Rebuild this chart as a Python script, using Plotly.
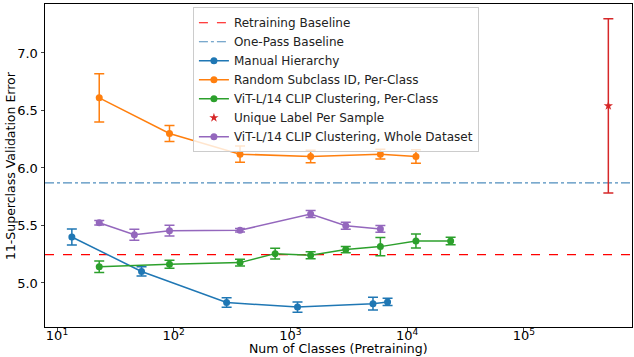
import plotly.graph_objects as go

# ---- data ----
manual_x = [13.4, 53, 284, 1150, 5100, 6800]
manual_y = [5.40, 5.10, 4.83, 4.79, 4.82, 4.835]
manual_e = [0.07, 0.04, 0.042, 0.045, 0.055, 0.032]

random_x = [23, 92, 370, 1490, 5900, 11900]
random_y = [6.61, 6.30, 6.12, 6.10, 6.12, 6.10]
random_e = [0.21, 0.07, 0.07, 0.055, 0.043, 0.058]

clip_pc_x = [23, 92, 370, 740, 1490, 2980, 5900, 11900, 23600]
clip_pc_y = [5.14, 5.163, 5.177, 5.255, 5.241, 5.29, 5.316, 5.365, 5.365]
clip_pc_e = [0.05, 0.035, 0.03, 0.046, 0.03, 0.028, 0.08, 0.06, 0.032]

unique_x = [530000]
unique_y = [6.54]
unique_e = [0.757]

clip_wd_x = [23, 46, 92, 370, 1490, 2980, 5900]
clip_wd_y = [5.524, 5.42, 5.455, 5.458, 5.60, 5.498, 5.47]
clip_wd_e = [0.02, 0.048, 0.046, 0.015, 0.03, 0.03, 0.03]

retrain_baseline = 5.246
onepass_baseline = 5.87

x_log_range = [0.897, 5.927]
y_range = [4.617, 7.426]
x_tickvals = [10, 100, 1000, 10000, 100000]
x_ticktext = ["10<sup>1</sup>", "10<sup>2</sup>", "10<sup>3</sup>", "10<sup>4</sup>", "10<sup>5</sup>"]
y_tickvals = [5.0, 5.5, 6.0, 6.5, 7.0]
x_title = "Num of Classes (Pretraining)"
y_title = "11-Superclass Validation Error"

FONT = "DejaVu Sans"
fig = go.Figure()

x_span = [10 ** x_log_range[0], 10 ** x_log_range[1]]
fig.add_trace(go.Scatter(x=x_span, y=[retrain_baseline] * 2, mode="lines",
                         name="Retraining Baseline",
                         line=dict(color="#ff0000", dash="dash", width=1.2)))
fig.add_trace(go.Scatter(x=x_span, y=[onepass_baseline] * 2, mode="lines",
                         name="One-Pass Baseline",
                         line=dict(color="#4f8dbd", dash="dashdot", width=1.2)))


def add_series(x, y, e, name, color, symbol="circle", mode="lines+markers"):
    fig.add_trace(go.Scatter(
        x=x, y=y, mode=mode, name=name,
        line=dict(color=color, width=1.5),
        marker=dict(color=color, size=7, symbol=symbol),
        error_y=dict(type="data", array=e, visible=True, color=color,
                     thickness=1.5, width=5),
    ))


add_series(manual_x, manual_y, manual_e, "Manual Hierarchy", "#1f77b4")
add_series(random_x, random_y, random_e, "Random Subclass ID, Per-Class", "#ff7f0e")
add_series(clip_pc_x, clip_pc_y, clip_pc_e, "ViT-L/14 CLIP Clustering, Per-Class", "#2ca02c")
add_series(unique_x, unique_y, unique_e, "Unique Label Per Sample", "#d62728",
           symbol="star", mode="markers")
add_series(clip_wd_x, clip_wd_y, clip_wd_e, "ViT-L/14 CLIP Clustering, Whole Dataset", "#9467bd")

fig.update_layout(
    width=634, height=357,
    margin=dict(l=45, r=2, t=4, b=30, pad=0, autoexpand=False),
    paper_bgcolor="white", plot_bgcolor="white",
    font=dict(family=FONT, size=13, color="black"),
    showlegend=True,
    legend=dict(x=0.252, y=0.99, xanchor="left", yanchor="top",
                bgcolor="rgba(255,255,255,0.8)", bordercolor="#cccccc",
                borderwidth=1, font=dict(family=FONT, size=12, color="#222"),
                tracegroupgap=0, itemwidth=30),
    annotations=[
        dict(text=x_title, xref="paper", yref="paper", x=0.5, y=-0.068,
             xanchor="center", yanchor="middle", showarrow=False,
             font=dict(family=FONT, size=12.5, color="black")),
        dict(text=y_title, xref="paper", yref="paper", x=-0.0425, y=0.5,
             xanchor="right", yanchor="middle", textangle=-90, showarrow=False,
             font=dict(family=FONT, size=12.5, color="black")),
    ],
)
fig.update_xaxes(type="log", range=x_log_range, tickvals=x_tickvals, ticktext=x_ticktext,
                 automargin=False, ticklabelstandoff=-7,
                 showgrid=False, zeroline=False, showline=True, linecolor="black",
                 linewidth=1, mirror=True, ticks="outside", ticklen=3.5,
                 tickfont=dict(size=13))
fig.update_yaxes(range=y_range, tickvals=y_tickvals, tickformat=".1f",
                 automargin=False,
                 showgrid=False, zeroline=False, showline=True, linecolor="black",
                 linewidth=1, mirror=True, ticks="outside", ticklen=3.5,
                 tickfont=dict(size=13))

fig.write_html("out.html", config={"displayModeBar": False},
               post_script="document.body.style.margin='0';document.body.style.overflow='hidden';")
